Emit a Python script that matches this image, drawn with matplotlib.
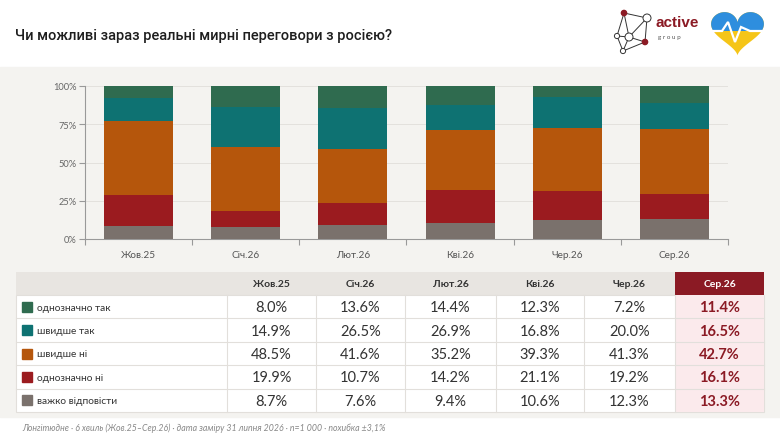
import numpy as np
import matplotlib
matplotlib.use("Agg")
from matplotlib import pyplot as plt
from matplotlib.patches import Rectangle, Polygon, Circle

plt.rcParams['font.family'] = ['Lato', 'DejaVu Sans']

# Data
waves = ["Жов.25", "Січ.26", "Лют.26", "Кві.26", "Чер.26", "Сер.26"]
answers = ["однозначно так", "швидше так", "швидше ні", "однозначно ні", "важко відповісти"]
definitely_yes = [8.0, 13.6, 14.4, 12.3, 7.2, 11.4]
rather_yes = [14.9, 26.5, 26.9, 16.8, 20.0, 16.5]
rather_no = [48.5, 41.6, 35.2, 39.3, 41.3, 42.7]
definitely_no = [19.9, 10.7, 14.2, 21.1, 19.2, 16.1]
hard_to_say = [8.7, 7.6, 9.4, 10.6, 12.3, 13.3]
y_ticks = [0, 25, 50, 75, 100]
y_tick_labels = ["0%", "25%", "50%", "75%", "100%"]

title = "Чи можливі зараз реальні мирні переговори з росією?"
footer = ("Лонгітюдне · 6 хвиль (Жов.25–Сер.26) · дата заміру 31 липня 2026 · "
          "n=1 000 · похибка ±3,1%")

colors = {
    "однозначно так": "#2f6b4f",
    "швидше так": "#0e7272",
    "швидше ні": "#b5560c",
    "однозначно ні": "#9b1b1f",
    "важко відповісти": "#7a716c",
}
series = {
    "однозначно так": definitely_yes,
    "швидше так": rather_yes,
    "швидше ні": rather_no,
    "однозначно ні": definitely_no,
    "важко відповісти": hard_to_say,
}
accent = "#8b1a24"
panel_bg = "#f4f3f0"

W, H = 780, 439
fig = plt.figure(figsize=(W / 100, H / 100), dpi=100)
fig.patch.set_facecolor("white")

# Overlay axes in pixel coordinates for background, table, header
ov = fig.add_axes([0, 0, 1, 1])
ov.set_xlim(0, W)
ov.set_ylim(H, 0)
ov.axis("off")

ov.add_patch(Rectangle((0, 68), W, 350, color=panel_bg, zorder=0))

ov.text(15, 36, title, fontsize=10.5, fontweight="medium", color="#1e1e1e",
        family=["Roboto", "DejaVu Sans"], va="center", ha="left")

# Logo: network icon
nodes = [(624, 14), (647, 19), (617, 37), (629, 38), (645, 43), (623, 52)]
edges = [(0, 1), (0, 2), (0, 3), (1, 3), (1, 4), (2, 3), (3, 5), (2, 5), (4, 5), (3, 4)]
for a, b in edges:
    ov.plot([nodes[a][0], nodes[b][0]], [nodes[a][1], nodes[b][1]],
            color="#333333", lw=0.7, zorder=2)
for i, (nx, ny) in enumerate(nodes):
    if i in (0, 4):
        ov.add_patch(Circle((nx, ny), 2.6, color="#8b1a24", zorder=3))
    else:
        r = 4 if i in (1, 3) else 2.6
        ov.add_patch(Circle((nx, ny), r, facecolor="white", edgecolor="#333333",
                            lw=0.7, zorder=3))
ov.text(656, 23, "active", fontsize=11, fontweight="bold", color="#8b1a24",
        family=["Liberation Sans Narrow", "Liberation Sans"], va="center")
ov.text(658, 37, "g r o u p", fontsize=4.5, color="#555555", va="center")

# Logo: heart
t = np.linspace(0, 2 * np.pi, 200)
hx = 16 * np.sin(t) ** 3
hy = 13 * np.cos(t) - 5 * np.cos(2 * t) - 2 * np.cos(3 * t) - np.cos(4 * t)
hx = 737.5 + hx * 1.65
hy = 31 - hy * 1.5
heart = Polygon(np.column_stack([hx, hy]), closed=True, facecolor="#f5c518",
                edgecolor="none", zorder=2)
ov.add_patch(heart)
blue = Rectangle((700, 0), 80, 32, facecolor="#2e8ede", zorder=3)
ov.add_patch(blue)
blue.set_clip_path(heart)
ov.plot([708, 722, 728, 735, 741, 750, 767], [32, 32, 23, 43, 28, 32, 32],
        color="white", lw=1.6, zorder=4, solid_joinstyle="miter")

# Stacked bar chart
ax = fig.add_axes([85 / W, 1 - 240 / H, 643 / W, 153 / H])
ax.set_facecolor("none")
x = np.arange(len(waves))
stack_order = ["важко відповісти", "однозначно ні", "швидше ні", "швидше так", "однозначно так"]
bottom = np.zeros(len(waves))
for name in stack_order:
    vals = np.array(series[name])
    ax.bar(x, vals, bottom=bottom, width=0.645, color=colors[name], zorder=3)
    bottom += vals
ax.set_xlim(-0.5, len(waves) - 0.5)
ax.set_ylim(0, 100)
ax.set_yticks(y_ticks)
ax.set_yticklabels(y_tick_labels)
ax.set_xticks(x)
ax.set_xticklabels(waves)
ax.set_xticks(np.arange(-0.5, len(waves), 1), minor=True)
ax.tick_params(axis="x", which="major", length=0, pad=8, labelsize=7.2, labelcolor="#555555")
ax.tick_params(axis="x", which="minor", length=4, color="#999999", width=0.8)
ax.tick_params(axis="y", length=4, color="#999999", width=0.8, labelsize=6.7,
               labelcolor="#666666", pad=2)
ax.grid(axis="y", color="#e3e1dd", lw=0.7, zorder=0)
for s in ["top", "right"]:
    ax.spines[s].set_visible(False)
for s in ["left", "bottom"]:
    ax.spines[s].set_color("#999999")
    ax.spines[s].set_linewidth(0.8)

# Table
col_edges = [16, 227, 316, 405, 496, 584, 675, 764]
head_top, head_bot = 273, 296
row_h = (413 - head_bot) / len(answers)
grid_col = "#e2dfdb"

ov.add_patch(Rectangle((col_edges[0], head_top), col_edges[-1] - col_edges[0],
                       head_bot - head_top, facecolor="#e8e5e1", edgecolor="none", zorder=1))
ov.add_patch(Rectangle((col_edges[-2], head_top), col_edges[-1] - col_edges[-2],
                       head_bot - head_top, facecolor=accent, edgecolor="none", zorder=2))
ov.add_patch(Rectangle((col_edges[0], head_bot), col_edges[-1] - col_edges[0],
                       row_h * len(answers), facecolor="white", edgecolor=grid_col,
                       lw=0.8, zorder=1))
ov.add_patch(Rectangle((col_edges[-2], head_bot), col_edges[-1] - col_edges[-2],
                       row_h * len(answers), facecolor="#fbeaec", edgecolor="none", zorder=1))

for j, w in enumerate(waves):
    cx = (col_edges[j + 1] + col_edges[j + 2]) / 2
    last = j == len(waves) - 1
    ov.text(cx, (head_top + head_bot) / 2 + 0.5, w, ha="center", va="center",
            fontsize=7.5, fontweight="bold", color="white" if last else "#333333", zorder=4)

for i, name in enumerate(answers):
    y0 = head_bot + i * row_h
    cy = y0 + row_h / 2
    if i > 0:
        ov.plot([col_edges[0], col_edges[-1]], [y0, y0], color=grid_col, lw=0.8, zorder=3)
    ov.add_patch(Rectangle((22, cy - 5), 10, 10, color=colors[name], zorder=3))
    ov.text(37, cy + 0.5, name, ha="left", va="center", fontsize=7.3, color="#333333", zorder=4)
    for j, v in enumerate(series[name]):
        cx = (col_edges[j + 1] + col_edges[j + 2]) / 2
        last = j == len(waves) - 1
        ov.text(cx, cy + 0.5, f"{v:.1f}%", ha="center", va="center", fontsize=10.5,
                fontweight="bold" if last else "normal",
                color=accent if last else "#333333", zorder=4)

for xe in col_edges[1:-1]:
    ov.plot([xe, xe], [head_bot, head_bot + row_h * len(answers)], color=grid_col,
            lw=0.8, zorder=3)

ov.text(22, 428, footer, ha="left", va="center", fontsize=6.3, style="italic",
        color="#888888")

fig.savefig("out.png", dpi=100, facecolor=fig.get_facecolor())
